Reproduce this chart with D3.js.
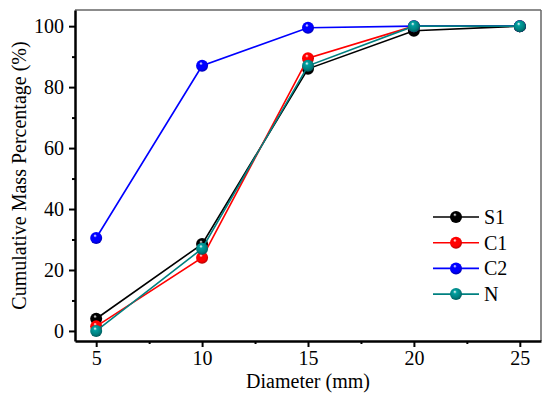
<!DOCTYPE html>
<html>
<head>
<meta charset="utf-8">
<script src="https://cdn.jsdelivr.net/npm/d3@7"></script>
<style>
  body { margin: 0; background: #fff; }
</style>
</head>
<body>
<div id="chart"></div>
<script>
// sieve sizes and cumulative passing values
const diameters = [5, 10, 15, 20, 25];
const s1 = [4, 28.5, 86, 98.5, 100];
const c1 = [1.5, 24, 89.5, 100, 100];
const c2 = [30.5, 87, 99.5, 100, 100];
const nMix = [0, 27, 87, 100, 100];
const seriesNames = ['S1', 'C1', 'C2', 'N'];
const seriesColors = ['#000000', '#ff0000', '#0000ff', '#008080'];
const xTicks = [5, 10, 15, 20, 25];
const yTicks = [0, 20, 40, 60, 80, 100];

const allSeries = [s1, c1, c2, nMix].map((vals, i) => ({
  name: seriesNames[i],
  color: seriesColors[i],
  points: vals.map((v, j) => ({ x: diameters[j], y: v }))
}));

const W = 550, H = 397;
const margin = { top: 10, right: 9, bottom: 56, left: 75 };
const width = W - margin.left - margin.right;
const height = H - margin.top - margin.bottom;

const svg = d3.select('#chart').append('svg')
  .attr('width', W)
  .attr('height', H);

const defs = svg.append('defs');
// shaded ball marker per colour
allSeries.forEach((s, i) => {
  const g = defs.append('radialGradient')
    .attr('id', 'ball' + i)
    .attr('cx', '45%').attr('cy', '40%').attr('r', '60%')
    .attr('fx', '40%').attr('fy', '30%');
  g.append('stop').attr('offset', '0%').attr('stop-color', '#ffffff');
  g.append('stop').attr('offset', '25%').attr('stop-color', d3.color(s.color).brighter(0.6).formatHex());
  g.append('stop').attr('offset', '70%').attr('stop-color', s.color);
  g.append('stop').attr('offset', '100%').attr('stop-color', d3.color(s.color).darker(1).formatHex());
});

const plot = svg.append('g')
  .attr('transform', `translate(${margin.left},${margin.top})`);

const x = d3.scaleLinear().domain([4, 26]).range([0, width]);
const y = d3.scaleLinear().domain([-3.3, 105.3]).range([height, 0]);

// grey top/right frame
plot.append('line')
  .attr('x1', 0).attr('x2', width).attr('y1', 0).attr('y2', 0)
  .attr('stroke', '#666').attr('stroke-width', 1.5);
plot.append('line')
  .attr('x1', width).attr('x2', width).attr('y1', 0).attr('y2', height)
  .attr('stroke', '#666').attr('stroke-width', 1.5);

// X axis
const xAxis = plot.append('g')
  .attr('transform', `translate(0,${height})`)
  .call(d3.axisBottom(x).tickValues(xTicks).tickSize(6).tickPadding(4).tickSizeOuter(0));
plot.append('g')
  .attr('transform', `translate(0,${height})`)
  .call(d3.axisBottom(x).tickValues([7.5, 12.5, 17.5, 22.5]).tickSize(3).tickFormat('').tickSizeOuter(0))
  .select('.domain').remove();

// Y axis
const yAxis = plot.append('g')
  .call(d3.axisLeft(y).tickValues(yTicks).tickSize(6).tickPadding(5).tickSizeOuter(0));
plot.append('g')
  .call(d3.axisLeft(y).tickValues([10, 30, 50, 70, 90]).tickSize(3).tickFormat('').tickSizeOuter(0))
  .select('.domain').remove();

[xAxis, yAxis].forEach(a => a.attr('font-family', 'Liberation Serif').attr('font-size', 20));
plot.selectAll('.domain').attr('stroke', '#000').attr('stroke-width', 2.5);
plot.selectAll('.tick line').attr('stroke', '#000').attr('stroke-width', 2);
plot.selectAll('.tick text')
  .attr('fill', '#000')
  .style('font-family', 'Liberation Serif')
  .style('font-size', '20px');

// series lines and markers
const line = d3.line().x(d => x(d.x)).y(d => y(d.y));

allSeries.forEach((s, i) => {
  plot.append('path')
    .datum(s.points)
    .attr('fill', 'none')
    .attr('stroke', s.color)
    .attr('stroke-width', 1.6)
    .attr('d', line);
  plot.selectAll('.pt' + i)
    .data(s.points)
    .enter()
    .append('circle')
    .attr('cx', d => x(d.x))
    .attr('cy', d => y(d.y))
    .attr('r', 6)
    .attr('fill', `url(#ball${i})`);
});

// axis titles
svg.append('text')
  .attr('x', margin.left + width / 2)
  .attr('y', H - 9)
  .attr('text-anchor', 'middle')
  .style('font-family', 'Liberation Serif')
  .style('font-size', '20px')
  .text('Diameter (mm)');

svg.append('text')
  .attr('transform', 'rotate(-90)')
  .attr('x', -(margin.top + height / 2))
  .attr('y', 26)
  .attr('text-anchor', 'middle')
  .style('font-family', 'Liberation Serif')
  .style('font-size', '20px')
  .text('Cumulative Mass Percentage (%)');

// legend
const legend = svg.append('g').attr('transform', 'translate(433,217)');
allSeries.forEach((s, i) => {
  const row = legend.append('g').attr('transform', `translate(0,${i * 25.7})`);
  row.append('line')
    .attr('x1', 0).attr('x2', 46)
    .attr('stroke', s.color).attr('stroke-width', 1.6);
  row.append('circle')
    .attr('cx', 23).attr('cy', 0).attr('r', 6)
    .attr('fill', `url(#ball${i})`);
  row.append('text')
    .attr('x', 51).attr('y', 7)
    .style('font-family', 'Liberation Serif')
    .style('font-size', '20px')
    .text(s.name);
});
</script>
</body>
</html>
